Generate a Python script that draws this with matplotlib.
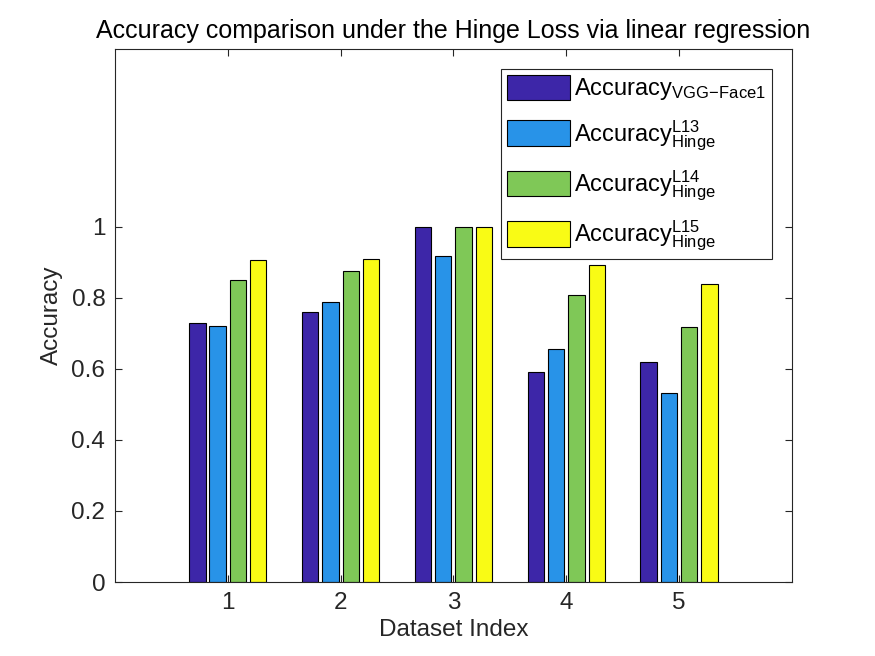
import matplotlib.pyplot as plt
import numpy as np

plt.rcParams['font.family'] = ['Liberation Sans', 'DejaVu Sans']
plt.rcParams['mathtext.fontset'] = 'custom'
plt.rcParams['mathtext.rm'] = 'Liberation Sans'
plt.rcParams['mathtext.it'] = 'Liberation Sans'

datasets = [1, 2, 3, 4, 5]
acc_vgg = [0.729, 0.759, 0.999, 0.590, 0.618]
acc_l13 = [0.721, 0.787, 0.917, 0.655, 0.533]
acc_l14 = [0.849, 0.875, 0.999, 0.807, 0.719]
acc_l15 = [0.905, 0.909, 1.000, 0.893, 0.839]
labels = [r'$\mathrm{Accuracy}_{\mathrm{VGG\!-\!Face1}}$',
          r'$\mathrm{Accuracy}_{\mathrm{Hinge}}^{\mathrm{L13}}$',
          r'$\mathrm{Accuracy}_{\mathrm{Hinge}}^{\mathrm{L14}}$',
          r'$\mathrm{Accuracy}_{\mathrm{Hinge}}^{\mathrm{L15}}$']
colors = ['#3D26A8', '#2893E8', '#7FC857', '#F9FB15']

fig = plt.figure(figsize=(8.75, 6.56), dpi=100)
ax = fig.add_axes([0.1314, 0.1128, 0.905 - 0.1314, 0.9253 - 0.1128])

x = np.array(datasets)
offsets = [-0.27, -0.09, 0.09, 0.27]
for vals, off, c, lab in zip([acc_vgg, acc_l13, acc_l14, acc_l15], offsets, colors, labels):
    ax.bar(x + off, vals, width=0.145, color=c, edgecolor='black', linewidth=0.8, label=lab)

ax.set_xlim(0, 6)
ax.set_ylim(0, 1.5)
ax.set_xticks(datasets)
ax.set_yticks([0, 0.2, 0.4, 0.6, 0.8, 1])
ax.set_yticklabels(['0', '0.2', '0.4', '0.6', '0.8', '1'])
ax.tick_params(direction='in', top=True, right=True, labelsize=17.5, colors='#262626', length=5, pad=7)
for s in ax.spines.values():
    s.set_color('#262626')
    s.set_linewidth(0.8)
ax.set_xlabel('Dataset Index', fontsize=17.5, color='#262626', labelpad=4)
ax.set_ylabel('Accuracy', fontsize=17.5, color='#262626', labelpad=6)
ax.set_title('Accuracy comparison under the Hinge Loss via linear regression', fontsize=18, pad=8)

leg = ax.legend(loc='upper right', bbox_to_anchor=(0.97, 0.963), fontsize=17, fancybox=False,
                edgecolor='#262626', framealpha=1, handlelength=2.7, handleheight=1.3,
                labelspacing=0.68, handletextpad=0.15, borderpad=0.25, borderaxespad=0)
leg.get_frame().set_linewidth(0.8)

plt.savefig('out.png')
